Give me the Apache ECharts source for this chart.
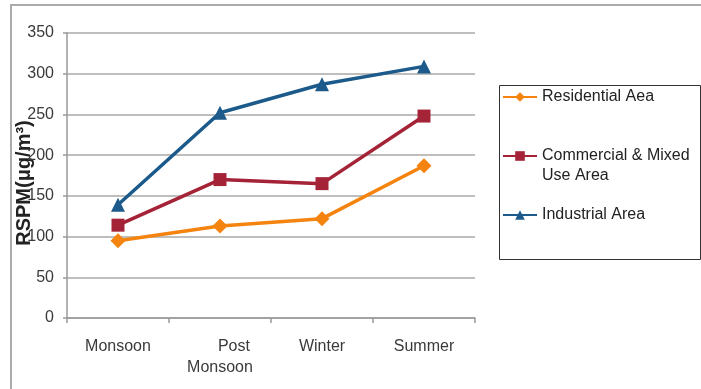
<!DOCTYPE html>
<html>
<head>
<meta charset="utf-8">
<script src="https://cdn.jsdelivr.net/npm/echarts@6/dist/echarts.min.js"></script>
<style>
  html, body { margin: 0; padding: 0; background: #fff; }
  #chart { width: 701px; height: 389px; }
</style>
</head>
<body>
<div id="chart"></div>
<script>
// Seasonal RSPM levels by land-use area
const seasons = ['Monsoon', 'Post Monsoon', 'Winter', 'Summer'];
const residential = [95, 113, 122, 187];
const commercial = [114, 170, 165, 248];
const industrial = [139, 252, 287, 309];
const yTicks = [0, 50, 100, 150, 200, 250, 300, 350];

const seriesNames = ['Residential Aea', 'Commercial & Mixed Use Area', 'Industrial Area'];
const legendLabels = {
  'Residential Aea': 'Residential Aea',
  'Commercial & Mixed Use Area': '\nCommercial & Mixed\nUse Area',
  'Industrial Area': 'Industrial Area'
};

const FONT = '"Liberation Sans", Arial, sans-serif';
const TEXT = '#3a3a3a';

const chart = echarts.init(document.getElementById('chart'), null, { renderer: 'canvas' });

function lineSeries(name, data, color, symbol, size) {
  return {
    name: name,
    type: 'line',
    data: data,
    symbol: symbol,
    symbolSize: size,
    lineStyle: { color: color, width: 3.5 },
    itemStyle: { color: color },
    emphasis: { disabled: true },
    animation: false
  };
}

chart.setOption({
  animation: false,
  textStyle: { fontFamily: FONT },
  grid: { left: 67, right: 226, top: 33, bottom: 71, containLabel: false, outerBoundsMode: 'none' },
  xAxis: {
    type: 'category',
    data: seasons,
    boundaryGap: true,
    axisLine: { lineStyle: { color: '#9a9a9a', width: 1.5 } },
    axisTick: { show: true, length: 5, lineStyle: { color: '#9a9a9a', width: 1.5 } },
    axisLabel: {
      interval: 0,
      color: TEXT,
      fontSize: 16,
      lineHeight: 21,
      margin: 18,
      formatter: function (v) {
        if (v === 'Post Monsoon') return '{r|Post}\n{c|Monsoon}';
        return v;
      },
      rich: {
        r: { align: 'right', fontSize: 16, lineHeight: 21, color: TEXT, padding: [0, 3, 0, 0] },
        c: { align: 'center', fontSize: 16, lineHeight: 21, color: TEXT }
      }
    }
  },
  yAxis: {
    type: 'value',
    min: 0,
    max: 350,
    interval: 50,
    name: 'RSPM(μg/m³)',
    nameLocation: 'middle',
    nameRotate: 90,
    nameGap: 33,
    nameMoveOverlap: false,
    nameTextStyle: {
      fontSize: 20, fontWeight: 'bold', color: '#222', fontFamily: FONT,
      padding: [0, 15, 0, 0]
    },
    axisLine: { show: true, lineStyle: { color: '#9a9a9a', width: 1.5 } },
    axisTick: { show: true, length: 4, lineStyle: { color: '#9a9a9a', width: 1.5 } },
    splitLine: { lineStyle: { color: '#a8a8a8', width: 1.5 } },
    axisLabel: {
      color: TEXT,
      fontSize: 16,
      margin: 13,
      formatter: function (v) { return yTicks.indexOf(v) >= 0 ? String(v) : ''; }
    }
  },
  legend: {
    orient: 'vertical',
    left: 497,
    top: 82,
    itemGap: 19,
    itemWidth: 34,
    itemHeight: 12,
    data: seriesNames,
    selectedMode: false,
    textStyle: { color: '#222', fontSize: 16, lineHeight: 20, fontFamily: FONT },
    formatter: function (name) { return legendLabels[name]; }
  },
  graphic: [
    {
      type: 'rect',
      silent: true,
      shape: { x: 11, y: 5, width: 720, height: 420 },
      style: { fill: 'none', stroke: '#ababab', lineWidth: 2 },
      z: -1
    },
    {
      type: 'rect',
      silent: true,
      shape: { x: 499.5, y: 85.5, width: 201, height: 174 },
      style: { fill: 'none', stroke: '#333', lineWidth: 1 },
      z: -1
    }
  ],
  series: [
    lineSeries(seriesNames[0], residential, '#f5830f', 'diamond', 15),
    lineSeries(seriesNames[1], commercial, '#a52337', 'rect', 13),
    lineSeries(seriesNames[2], industrial, '#1b5a8a', 'triangle', 14)
  ]
});
</script>
</body>
</html>
